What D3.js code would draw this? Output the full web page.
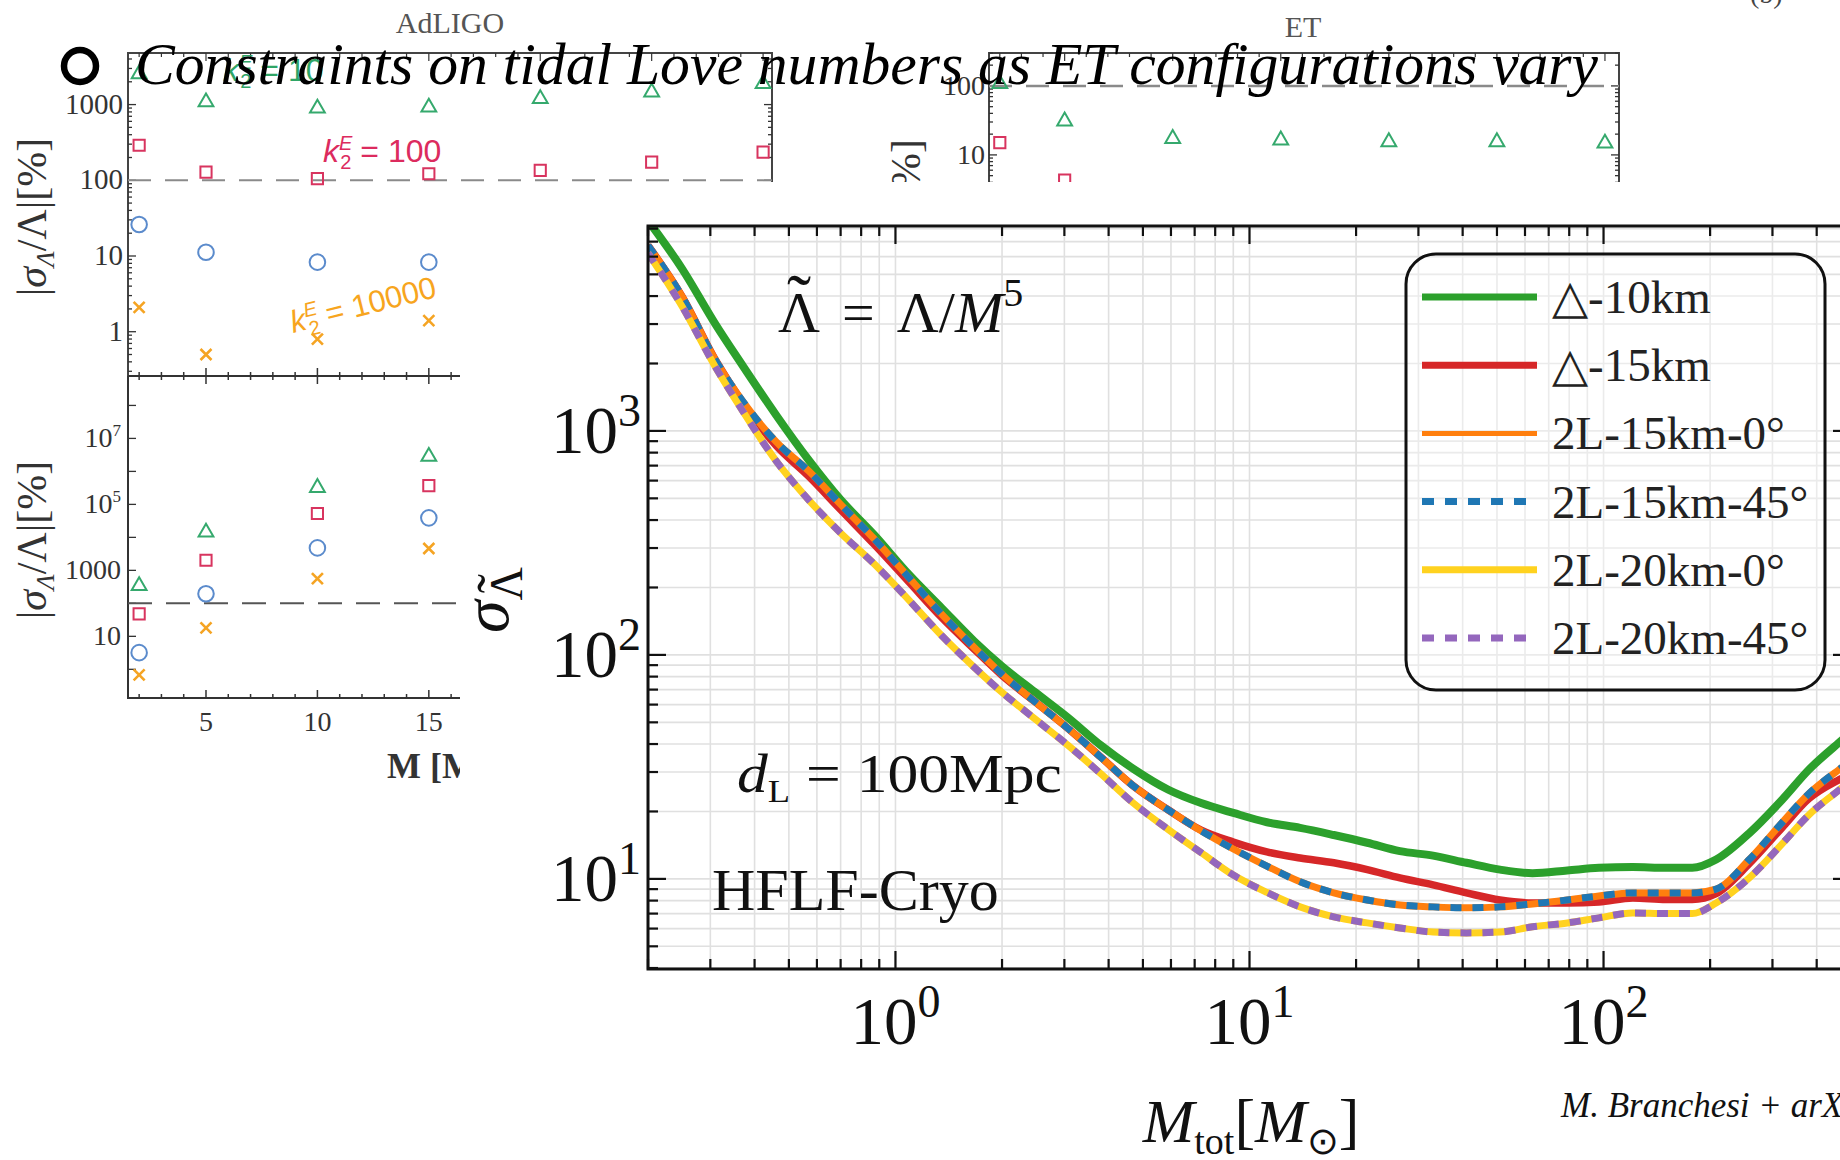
<!DOCTYPE html>
<html>
<head>
<meta charset="utf-8">
<script src="https://cdn.jsdelivr.net/npm/d3@7/dist/d3.min.js"></script>
<style>
  html, body { margin:0; padding:0; background:#fff; }
  svg { display:block; }
</style>
</head>
<body>
<svg id="chart"></svg>
<script>
// ===== Main panel: sigma_Lambda~ vs M_tot (HFLF-Cryo, dL = 100 Mpc) =====
const massGrid = [0.2, 0.25, 0.31, 0.37, 0.46, 0.57, 0.7, 0.87, 1.09, 1.35, 1.67, 2.0, 2.47, 3.07, 3.8, 4.7, 5.9, 7.3, 9.0, 11.2, 13.9, 17.3, 21.5, 26.6, 33, 41, 51, 63, 79, 97, 121, 150, 178, 208, 258, 319, 380, 462, 500];
const sigmaTri10   = [8700, 5280, 3000, 1960, 1178, 738, 493, 344, 229, 162, 115, 89, 68.5, 52.5, 39.5, 31, 25, 21.8, 19.7, 17.9, 16.9, 15.7, 14.5, 13.3, 12.7, 11.8, 11.0, 10.6, 10.9, 11.2, 11.3, 11.2, 11.2, 12.2, 16.0, 22.5, 30.7, 40.5, 45];
const sigmaTri15   = [6730, 3963, 2075, 1340, 860, 625, 445, 312, 212, 147, 106, 81, 62, 47, 35, 26, 20.3, 16.5, 14.6, 13.2, 12.4, 11.8, 11.0, 10.1, 9.4, 8.66, 8.05, 7.81, 7.81, 7.89, 8.22, 8.1, 8.1, 8.6, 11.7, 16.9, 22.8, 27.7, 29.5];
const sigma2L15_0  = [6730, 3963, 2075, 1360, 895, 660, 470, 330, 222, 152, 108, 82, 62, 47, 35, 26, 20.3, 16.4, 13.6, 11.4, 9.7, 8.66, 8.05, 7.65, 7.5, 7.43, 7.5, 7.73, 8.05, 8.39, 8.66, 8.66, 8.66, 9.0, 12.2, 17.8, 24, 30.7, 33.6];
const sigma2L15_45 = [6730, 3963, 2075, 1360, 895, 660, 470, 330, 222, 152, 108, 82, 62, 47, 35, 26, 20.3, 16.4, 13.6, 11.4, 9.7, 8.66, 8.05, 7.65, 7.5, 7.43, 7.5, 7.73, 8.05, 8.39, 8.66, 8.66, 8.66, 9.0, 12.2, 17.8, 24, 30.7, 33.6];
const sigma2L20_0  = [6210, 3581, 1931, 1230, 735, 490, 350, 255, 176, 122, 88, 68, 52, 39.5, 29.5, 21.8, 16.6, 13.1, 10.4, 8.7, 7.5, 6.77, 6.36, 6.04, 5.79, 5.74, 5.79, 6.11, 6.36, 6.70, 7.05, 7.0, 7.0, 7.8, 10.1, 14.3, 19.3, 24.9, 27.6];
const sigma2L20_45 = [6210, 3581, 1931, 1230, 735, 490, 350, 255, 176, 122, 88, 68, 52, 39.5, 29.5, 21.8, 16.6, 13.1, 10.4, 8.7, 7.5, 6.77, 6.36, 6.04, 5.79, 5.74, 5.79, 6.11, 6.36, 6.70, 7.05, 7.0, 7.0, 7.8, 10.1, 14.3, 19.3, 24.9, 27.6];
const legendLabels = ["\u25B3-10km", "\u25B3-15km", "2L-15km-0\u00B0", "2L-15km-45\u00B0", "2L-20km-0\u00B0", "2L-20km-45\u00B0"];
const mainXTicks = [1, 10, 100];
const mainYTicks = [10, 100, 1000];

// ===== Background figure (AdLIGO / ET panels) =====
const bgMass = [2, 5, 10, 15, 20, 25, 30];
const adTopK10    = [2700, 1150, 950, 980, 1270, 1550, 2000];
const adTopK100   = [290, 128, 105, 122, 135, 174, 236];
const adTopBlue   = [26, 11.2, 8.3, 8.3];
const adTopK10000 = [2.1, 0.5, 0.8, 1.4];
const adBotGreen  = [393, 16400, 370000, 3250000];
const adBotRed    = [48, 2020, 53000, 370000];
const adBotBlue   = [3.2, 195, 4800, 39000];
const adBotOrange = [0.68, 18, 560, 4600];
const etGreen     = [115, 33, 18.4, 17.5, 16.5, 16.5, 15.8];
const etRed       = [15.1, 4.3];
const adTopTickLabels = ["1", "10", "100", "1000"];
const adTopTickVals = [1, 10, 100, 1000];
const adBotTickVals = [10, 1000, 1e5, 1e7];
const bgXTickVals = [5, 10, 15];

const W = 1840, H = 1160;
const serif = "'Liberation Serif','Times New Roman',serif";
const sans = "'Liberation Sans',Arial,sans-serif";
const svg = d3.select("#chart").attr("width", W).attr("height", H);
svg.append("rect").attr("width", W).attr("height", H).attr("fill", "#fff");

function richText(parent, x, y, parts, attrs) {
  const t = parent.append("text").attr("x", x).attr("y", y);
  Object.entries(attrs || {}).forEach(([k, v]) => t.attr(k, v));
  parts.forEach(p => {
    const s = t.append("tspan").text(p.t);
    if (p.size) s.attr("font-size", p.size);
    if (p.it) s.attr("font-style", "italic");
    if (p.dy) s.attr("dy", p.dy);
    if (p.dx) s.attr("dx", p.dx);
  });
  return t;
}
// place a tilde accent above character `idx` of a text element (baseline given in the text's own coords)
function tildeOver(parent, textSel, idx, baseline, size) {
  const node = textSel.node();
  const a = node.getStartPositionOfChar(idx), b = node.getEndPositionOfChar(idx);
  parent.append("text").attr("x", (a.x + b.x) / 2).attr("y", baseline - size * 0.14)
    .attr("text-anchor", "middle").attr("font-family", serif).attr("font-size", size * 1.25).attr("fill", "#111")
    .text("\u02DC");
}
function marker(g, shape, cx, cy, color) {
  let d;
  if (shape === "x") { const s = 5.5; d = `M${-s},${-s}L${s},${s}M${-s},${s}L${s},${-s}`; }
  else if (shape === "tri") d = d3.symbol(d3.symbolTriangle, 95)();
  else if (shape === "sq") d = d3.symbol(d3.symbolSquare, 125)();
  else d = d3.symbol(d3.symbolCircle, 190)();
  g.append("path").attr("d", d).attr("transform", `translate(${cx},${cy + (shape === "tri" ? 2 : 0)})`)
    .attr("fill", "none").attr("stroke", color).attr("stroke-width", shape === "x" ? 2.6 : 2);
}
const cG = "#35a96d", cR = "#d8345f", cB = "#5b8bcc", cO = "#f5a423";

// ---------- background panels ----------
const bg = svg.append("g");
const xA = d3.scaleLinear().domain([1.5, 30.4]).range([128, 772]);
const yAt = d3.scaleLog().domain([0.26, 4800]).range([376, 53]);
const yAb = d3.scaleLog().domain([0.135, 7.8e8]).range([698, 376]);
const xE = d3.scaleLinear().domain([1.5, 30.65]).range([989, 1619]);
const yE = d3.scaleLog().domain([1, 300]).range([223.9, 53]);

const axC = "#333";
bg.append("path").attr("d", "M128,376V53H772V376").attr("fill", "none").attr("stroke", "#444").attr("stroke-width", 2);
bg.append("path").attr("d", "M128,376V698H772").attr("fill", "none").attr("stroke", axC).attr("stroke-width", 2);
bg.append("path").attr("d", "M128,376H772").attr("fill", "none").attr("stroke", axC).attr("stroke-width", 2);
bg.append("path").attr("d", "M989,224V53H1619V224").attr("fill", "none").attr("stroke", "#444").attr("stroke-width", 2);

for (let m = 2; m <= 30; m++) {
  const maj = m % 5 === 0;
  const L = maj ? 8 : 4;
  const xx = xA(m);
  bg.append("line").attr("x1", xx).attr("x2", xx).attr("y1", 376 - L).attr("y2", 376 + L).attr("stroke", axC).attr("stroke-width", 1.5);
  bg.append("line").attr("x1", xx).attr("x2", xx).attr("y1", 698 - L).attr("y2", 698).attr("stroke", axC).attr("stroke-width", 1.5);
  bg.append("line").attr("x1", xx).attr("x2", xx).attr("y1", 53).attr("y2", 53 + L).attr("stroke", axC).attr("stroke-width", 1.2);
  const xe = xE(m);
  bg.append("line").attr("x1", xe).attr("x2", xe).attr("y1", 53).attr("y2", 53 + L).attr("stroke", axC).attr("stroke-width", 1.2);
}
[0.1, 1, 10, 100, 1000].forEach(dec => {
  for (let k = 1; k <= 9; k++) {
    const v = k * dec;
    if (v < 0.26 || v > 4800) continue;
    const L = k === 1 ? 8 : 4;
    bg.append("line").attr("x1", 128).attr("x2", 128 + L).attr("y1", yAt(v)).attr("y2", yAt(v)).attr("stroke", axC).attr("stroke-width", 1.3);
    bg.append("line").attr("x1", 772).attr("x2", 772 - L).attr("y1", yAt(v)).attr("y2", yAt(v)).attr("stroke", axC).attr("stroke-width", 1.3);
  }
});
for (let e = 0; e <= 8; e++) {
  const v = Math.pow(10, e);
  bg.append("line").attr("x1", 128).attr("x2", 136).attr("y1", yAb(v)).attr("y2", yAb(v)).attr("stroke", axC).attr("stroke-width", 1.3);
}
[1, 10, 100].forEach(dec => {
  for (let k = 1; k <= 9; k++) {
    const v = k * dec;
    if (v > 300) continue;
    const L = k === 1 ? 8 : 4;
    bg.append("line").attr("x1", 989).attr("x2", 989 + L).attr("y1", yE(v)).attr("y2", yE(v)).attr("stroke", axC).attr("stroke-width", 1.3);
    bg.append("line").attr("x1", 1619).attr("x2", 1619 - L).attr("y1", yE(v)).attr("y2", yE(v)).attr("stroke", axC).attr("stroke-width", 1.3);
  }
});

const dashC = "#8a8a8a";
bg.append("line").attr("x1", 128).attr("x2", 772).attr("y1", yAt(100)).attr("y2", yAt(100)).attr("stroke", dashC).attr("stroke-width", 2).attr("stroke-dasharray", "23,14");
bg.append("line").attr("x1", 128).attr("x2", 772).attr("y1", yAb(100)).attr("y2", yAb(100)).attr("stroke", "#555").attr("stroke-width", 2).attr("stroke-dasharray", "24,14");
bg.append("line").attr("x1", 989).attr("x2", 1619).attr("y1", yE(100)).attr("y2", yE(100)).attr("stroke", dashC).attr("stroke-width", 2.5).attr("stroke-dasharray", "23,14");

adTopTickVals.forEach((v, i) => {
  bg.append("text").attr("x", 123).attr("y", yAt(v) + 9).attr("text-anchor", "end")
    .attr("font-family", serif).attr("font-size", 29).attr("fill", "#333").text(adTopTickLabels[i]);
});
adBotTickVals.forEach(v => {
  const e = Math.round(Math.log10(v));
  const parts = e <= 3 ? [{t: String(v)}] : [{t: "10"}, {t: String(e), size: 17, dy: -11}];
  richText(bg, 121, yAb(v) + 9, parts, {"text-anchor": "end", "font-family": serif, "font-size": 28, fill: "#333"});
});
bgXTickVals.forEach(v => {
  bg.append("text").attr("x", xA(v)).attr("y", 731).attr("text-anchor", "middle")
    .attr("font-family", serif).attr("font-size", 28).attr("fill", "#333").text(v);
});
bg.append("text").attr("x", 985).attr("y", yE(100) + 9).attr("text-anchor", "end").attr("font-family", serif).attr("font-size", 28).attr("fill", "#333").text("100");
bg.append("text").attr("x", 985).attr("y", yE(10) + 9).attr("text-anchor", "end").attr("font-family", serif).attr("font-size", 28).attr("fill", "#333").text("10");

bg.append("text").attr("x", 450).attr("y", 33).attr("text-anchor", "middle").attr("font-family", serif).attr("font-size", 30).attr("fill", "#555").text("AdLIGO");
bg.append("text").attr("x", 1303).attr("y", 37).attr("text-anchor", "middle").attr("font-family", serif).attr("font-size", 30).attr("fill", "#555").text("ET");
const yLabParts = [{t: "|"}, {t: "\u03C3", it: true}, {t: "\u039B", size: 26, dy: 8, it: true}, {t: "/\u039B|[%]", dy: -8}];
richText(bg, 0, 0, yLabParts, {"text-anchor": "middle", "font-family": serif, "font-size": 42, fill: "#333", transform: "translate(46,217) rotate(-90)"});
richText(bg, 0, 0, yLabParts, {"text-anchor": "middle", "font-family": serif, "font-size": 42, fill: "#333", transform: "translate(46,540) rotate(-90)"});
richText(bg, 0, 0, yLabParts, {"text-anchor": "end", "font-family": serif, "font-size": 42, fill: "#333", transform: "translate(920,139) rotate(-90)"});
richText(bg, 387, 778, [{t: "M [M"}, {t: "\u2299", size: 22, dy: 6}, {t: "]", dy: -6}], {"font-family": serif, "font-size": 36, "font-weight": "bold", fill: "#333"});

adTopK10.forEach((v, i) => marker(bg, "tri", xA(bgMass[i]), yAt(v), cG));
adTopK100.forEach((v, i) => marker(bg, "sq", xA(bgMass[i]), yAt(v), cR));
adTopBlue.forEach((v, i) => marker(bg, "circ", xA(bgMass[i]), yAt(v), cB));
adTopK10000.forEach((v, i) => marker(bg, "x", xA(bgMass[i]), yAt(v), cO));
adBotGreen.forEach((v, i) => marker(bg, "tri", xA(bgMass[i]), yAb(v), cG));
adBotRed.forEach((v, i) => marker(bg, "sq", xA(bgMass[i]), yAb(v), cR));
adBotBlue.forEach((v, i) => marker(bg, "circ", xA(bgMass[i]), yAb(v), cB));
adBotOrange.forEach((v, i) => marker(bg, "x", xA(bgMass[i]), yAb(v), cO));
etGreen.forEach((v, i) => marker(bg, "tri", xE(bgMass[i]), yE(v), cG));
etRed.forEach((v, i) => marker(bg, "sq", xE(bgMass[i]), yE(v), cR));

const kParts = (val) => [{t: "k", it: true}, {t: "E", it: true, size: 20, dy: -12}, {t: "2", size: 20, dx: -12, dy: 19}, {t: " = " + val, dy: -7}];
richText(bg, 323, 162, kParts("100"), {"font-family": sans, "font-size": 32, fill: "#dc2b5e"});
richText(bg, 223, 81, kParts("10"), {"font-family": sans, "font-size": 32, fill: "#2fa566"});
richText(bg, 0, 0, kParts("10000"), {"font-family": sans, "font-size": 31, fill: "#f7a51e", transform: "translate(293,333) rotate(-14)"});

svg.append("text").attr("x", 1750).attr("y", 3).attr("font-family", serif).attr("font-size", 28).attr("fill", "#444").text("(b)");

// ---------- title ----------
svg.append("circle").attr("cx", 80).attr("cy", 66).attr("r", 16).attr("fill", "none").attr("stroke", "#000").attr("stroke-width", 6.5);
svg.append("text").attr("x", 135).attr("y", 84).attr("font-family", serif).attr("font-style", "italic")
  .attr("font-size", 60).attr("fill", "#000").attr("textLength", 1463).attr("lengthAdjust", "spacingAndGlyphs")
  .text("Constraints on tidal Love numbers as ET configurations vary");

// ---------- main chart ----------
svg.append("rect").attr("x", 460).attr("y", 182).attr("width", W - 460).attr("height", H - 182).attr("fill", "#fff");
const main = svg.append("g");
const L0 = 648, R0 = 1851, T0 = 226, B0 = 969;
const x = d3.scaleLog().domain([0.2, 500]).range([L0, R0]);
const y = d3.scaleLog().domain([3.96, 8220]).range([B0, T0]);

const xGrid = [], yGrid = [];
[0.1, 1, 10, 100].forEach(d => { for (let k = 1; k <= 9; k++) { const v = k * d; if (v >= 0.2 - 1e-9 && v <= 500 + 1e-9) xGrid.push({v, maj: k === 1}); } });
[1, 10, 100, 1000].forEach(d => { for (let k = 1; k <= 9; k++) { const v = k * d; if (v >= 3.96 && v <= 8220) yGrid.push({v, maj: k === 1}); } });

const grid = main.append("g").attr("stroke", "#e0e0e0").attr("stroke-width", 1.6);
xGrid.forEach(t => grid.append("line").attr("x1", x(t.v)).attr("x2", x(t.v)).attr("y1", T0).attr("y2", B0));
yGrid.forEach(t => grid.append("line").attr("x1", L0).attr("x2", R0).attr("y1", y(t.v)).attr("y2", y(t.v)));

svg.append("defs").append("clipPath").attr("id", "plotClip").append("rect")
  .attr("x", L0).attr("y", T0).attr("width", R0 - L0).attr("height", B0 - T0);

const series = [
  {vals: sigmaTri10,   color: "#2ca02c", w: 8,   dash: null, lw: 7},
  {vals: sigmaTri15,   color: "#d62728", w: 7.5, dash: null, lw: 7},
  {vals: sigma2L15_0,  color: "#ff7f0e", w: 7,   dash: null, lw: 5},
  {vals: sigma2L15_45, color: "#1f77b4", w: 7,   dash: "11,11", lw: 7},
  {vals: sigma2L20_0,  color: "#ffd21f", w: 7,   dash: null, lw: 7},
  {vals: sigma2L20_45, color: "#9467bd", w: 7,   dash: "11,11", lw: 7}
];
const line = d3.line().x((d, i) => x(massGrid[i])).y(d => y(d)).curve(d3.curveMonotoneX);
const curves = main.append("g").attr("clip-path", "url(#plotClip)");
series.forEach(s => {
  curves.append("path").attr("d", line(s.vals)).attr("fill", "none").attr("stroke", s.color)
    .attr("stroke-width", s.w).attr("stroke-dasharray", s.dash).attr("stroke-linecap", "butt").attr("stroke-linejoin", "round");
});

main.append("rect").attr("x", L0).attr("y", T0).attr("width", R0 - L0).attr("height", B0 - T0)
  .attr("fill", "none").attr("stroke", "#111").attr("stroke-width", 3);
const tk = main.append("g").attr("stroke", "#111").attr("stroke-width", 2.2);
xGrid.forEach(t => {
  const Ln = t.maj ? 18 : 10, xx = x(t.v);
  tk.append("line").attr("x1", xx).attr("x2", xx).attr("y1", B0).attr("y2", B0 - Ln);
  tk.append("line").attr("x1", xx).attr("x2", xx).attr("y1", T0).attr("y2", T0 + Ln);
});
yGrid.forEach(t => {
  const Ln = t.maj ? 18 : 10, yy = y(t.v);
  tk.append("line").attr("x1", L0).attr("x2", L0 + Ln).attr("y1", yy).attr("y2", yy);
  tk.append("line").attr("x1", R0).attr("x2", R0 - Ln).attr("y1", yy).attr("y2", yy);
});

mainYTicks.forEach(v => {
  richText(main, 641, y(v) + 22, [{t: "10"}, {t: String(Math.round(Math.log10(v))), size: 46, dy: -27}],
    {"text-anchor": "end", "font-family": serif, "font-size": 67, fill: "#111"});
});
mainXTicks.forEach(v => {
  richText(main, x(v), 1044, [{t: "10"}, {t: String(Math.round(Math.log10(v))), size: 46, dy: -27}],
    {"text-anchor": "middle", "font-family": serif, "font-size": 67, fill: "#111"});
});

richText(main, 1251, 1142, [{t: "M", it: true}, {t: "tot", size: 38, dy: 12}, {t: "[", dy: -12}, {t: "M", it: true}, {t: "\u2299", size: 38, dy: 12}, {t: "]", dy: -12}],
  {"text-anchor": "middle", "font-family": serif, "font-size": 62, fill: "#111"});

// sigma_Lambda~ (rotated)
const sigG = main.append("g").attr("transform", "translate(508,600) rotate(-90)");
const sigT = richText(sigG, 0, 0, [{t: "\u03C3", it: true}, {t: "\u039B", size: 46, dy: 14}],
  {"text-anchor": "middle", "font-family": serif, "font-size": 66, fill: "#111"});
tildeOver(sigG, sigT, 1, 14, 46);

// annotations
const eqT = richText(main, 778, 332, [{t: "\u039B"}, {t: "=", dx: 22}, {t: "\u039B", dx: 22}, {t: "/"}, {t: "M", it: true}, {t: "5", size: 40, dy: -26}],
  {"font-family": serif, "font-size": 58, fill: "#111"});
tildeOver(main, eqT, 0, 332, 58);
richText(main, 0, 0, [{t: "d", it: true}, {t: "L", size: 32, dy: 10}, {t: "=", dy: -10, dx: 14}, {t: "100Mpc", dx: 14}],
  {"font-family": serif, "font-size": 54, fill: "#111", transform: "translate(737,792) scale(1.14,1)"});
main.append("text").attr("x", 712).attr("y", 910).attr("font-family", serif).attr("font-size", 60).attr("fill", "#111").text("HFLF-Cryo");

// legend
const lg = main.append("g");
lg.append("rect").attr("x", 1406).attr("y", 254).attr("width", 419).attr("height", 436).attr("rx", 30)
  .attr("fill", "#fff").attr("fill-opacity", 0.35).attr("stroke", "#111").attr("stroke-width", 3);
series.forEach((s, i) => {
  const yy = 297 + i * 68.2;
  lg.append("line").attr("x1", 1422).attr("x2", 1537).attr("y1", yy).attr("y2", yy)
    .attr("stroke", s.color).attr("stroke-width", s.lw).attr("stroke-dasharray", s.dash ? "12,11" : null);
  lg.append("text").attr("x", 1552).attr("y", yy + 16).attr("font-family", serif).attr("font-size", 47).attr("fill", "#222").text(legendLabels[i]);
});

svg.append("text").attr("x", 1561).attr("y", 1117).attr("font-family", serif).attr("font-style", "italic")
  .attr("font-size", 35).attr("fill", "#111").text("M. Branchesi + arXiv:2303.15923");
</script>
</body>
</html>
